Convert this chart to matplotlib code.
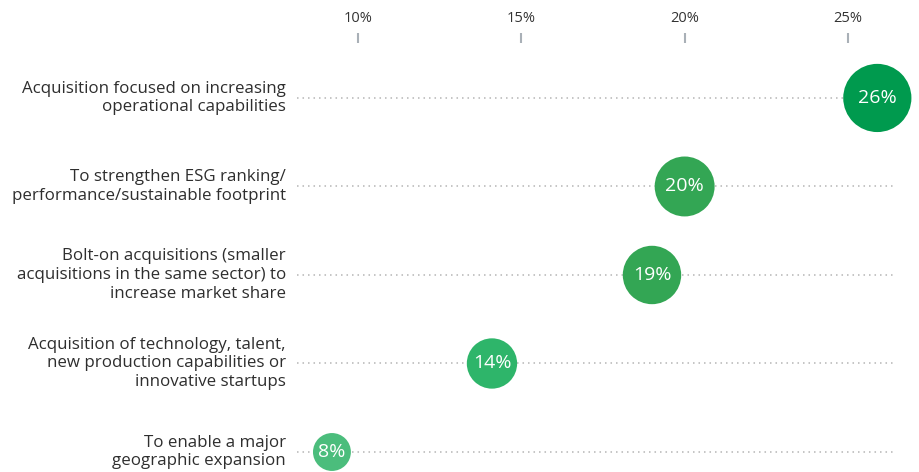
import numpy as np
import matplotlib
matplotlib.use("Agg")
import matplotlib.pyplot as plt

plt.rcParams['font.family'] = ['Open Sans', 'DejaVu Sans']

categories = [
    "Acquisition focused on increasing\noperational capabilities",
    "To strengthen ESG ranking/\nperformance/sustainable footprint",
    "Bolt-on acquisitions (smaller\nacquisitions in the same sector) to\nincrease market share",
    "Acquisition of technology, talent,\nnew production capabilities or\ninnovative startups",
    "To enable a major\ngeographic expansion",
]
values = [25.9, 20, 19, 14.1, 8]
colors = ["#009a4e", "#33a654", "#33a654", "#2eb56a", "#4bbd7c"]
xticks = [10, 15, 20, 25]
xtick_labels = ["10%", "15%", "20%", "25%"]

fig = plt.figure(figsize=(9.19, 4.72), dpi=100)
ax = fig.add_axes([297 / 919, 0, (893 - 297) / 919, 1 - 43 / 472])

x_lo, x_hi = 8.13, 26.38
ax.set_xlim(x_lo, x_hi)
ax.set_ylim(4.226, -0.621)

rows = np.arange(len(values))
ax.hlines(rows, x_lo, x_hi, colors="#b5b5b5", linewidth=1.1,
          linestyles=(0, (1, 2.6)), zorder=1)

# small bubbles are kept clear of the start of the line
x_pos = np.maximum(values, 9.2)
radius_px = 6.7 * np.sqrt(values)
sizes = (2 * radius_px * 0.72) ** 2
ax.scatter(x_pos, rows, s=sizes, c=colors, linewidths=0, zorder=2, clip_on=False)
for x, y, v in zip(x_pos, rows, values):
    ax.text(x, y, f"{v:.0f}%", ha="center", va="center", color="white",
            fontsize=14, zorder=3, clip_on=False)

ax.xaxis.tick_top()
ax.set_xticks(xticks)
ax.set_xticklabels(xtick_labels, fontsize=10.5, color="#333333")
ax.tick_params(axis="x", length=7, width=1.5, color="#a9b0b7", pad=5)

ax.set_yticks(rows)
ax.set_yticklabels(categories, fontsize=12.2, color="#2e2e2e",
                   linespacing=1.22, va="center")
ax.tick_params(axis="y", length=0, pad=8)

for s in ax.spines.values():
    s.set_visible(False)

fig.savefig("out.png", dpi=100)
